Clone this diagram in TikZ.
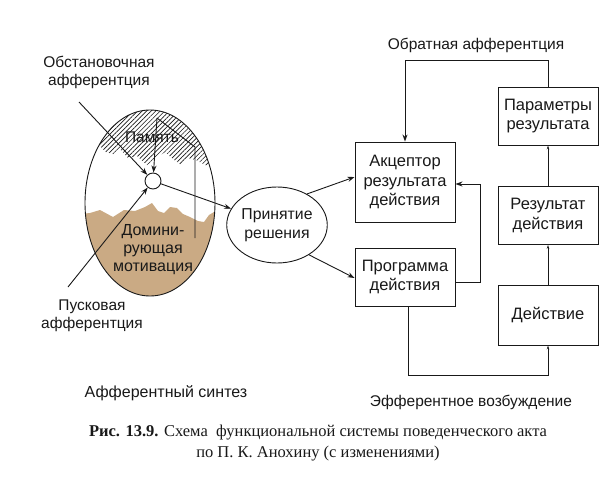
\documentclass[tikz,border=0pt]{standalone}
\usepackage{fontspec}
\setmainfont{Liberation Sans}
\newfontfamily\capfont{Liberation Serif}
\usetikzlibrary{shapes.geometric,arrows.meta,patterns.meta,calc}
\definecolor{tanbg}{RGB}{202,170,132}
\definecolor{inkc}{RGB}{25,25,25}
\begin{document}
\begin{tikzpicture}[x=1pt,y=-1pt,
  line width=0.9pt, draw=inkc,
  lbl/.style={font=\fontsize{15.5}{18}\selectfont, text=inkc, inner sep=0pt, align=center},
  blk/.style={draw, rectangle, minimum width=100pt, font=\fontsize{16.5}{19.5}\selectfont, align=center, text=inkc},
  arr/.style={-{Stealth[length=7pt,width=5pt]}},
  sarr/.style={-{Stealth[length=4pt,width=2.5pt]}}]
\path[fill=white] (0,0) rectangle (616,493);
\useasboundingbox (0,0) rectangle (616,493);

% egg interior regions
\begin{scope}
  \clip (150,203) ellipse [x radius=65, y radius=93];
  \fill[pattern={Lines[angle=45,distance=3.2pt,line width=0.65pt]},pattern color=inkc]
    (60,90) -- (60,140) -- (98,144) -- (106,152) -- (113,154) -- (120,149) -- (128,158) -- (137,156)
    -- (147,165) -- (156,158) -- (165,152) -- (173,159) -- (180,164) -- (188,158)
    -- (196,160) -- (205,165) -- (240,168) -- (240,90) -- cycle;
  \fill[tanbg]
    (60,300) -- (60,216) -- (90,213) -- (100,210) -- (113,217) -- (124,210) -- (135,211)
    -- (145,207) -- (152,203) -- (158,211) -- (164,213) -- (170,207) -- (177,208) -- (183,214)
    -- (190,217) -- (198,221) -- (204,222) -- (209,215) -- (214,212) -- (240,222) -- (240,300) -- cycle;
\end{scope}
\node[draw, ellipse, minimum width=130pt, minimum height=186pt, inner sep=0pt] (egg) at (150,203) {};

\node[lbl] (pam) at (152,137) {Память};
\node[lbl, font=\fontsize{16}{18}\selectfont] (dom) at (153,250) {Домини-\\рующая\\мотивация};

\node[circle, draw, fill=white, minimum size=16pt, inner sep=0pt] (c) at (153,181) {};

% memory lines
\coordinate (m1) at (195,238);
\coordinate (m2) at (195,147);
\coordinate (m3) at (157,118);
\draw (m1) -- (m2) -- (m3);
\draw[arr] (m3) -- (c);

% afferent inputs
\node[lbl] (obst) at (99,72) {Обстановочная\\афферентция};
\node[lbl] (pusk) at (92,316) {Пусковая\\афферентция};
\coordinate (obstA) at (79,102);
\coordinate (puskA) at (68,287);
\draw[arr] (obstA) -- (c);
\draw[arr] (puskA) -- (c);

% decision
\node[draw, ellipse, minimum width=97pt, minimum height=76pt, inner sep=0pt, font=\fontsize{15.8}{19.5}\selectfont, align=center, text=inkc] (prin) at (277,225) {Принятие\\решения};
\draw[arr] (c) -- (prin);

% right blocks
\node[blk, minimum height=80pt] (akc) at (405,182) {Акцептор\\результата\\действия};
\node[blk, minimum height=58pt] (prog) at (405,277) {Программа\\действия};
\node[blk, minimum height=58pt] (par) at (548,116) {Параметры\\результата};
\node[blk, minimum height=58pt] (res) at (548,215.5) {Результат\\действия};
\node[blk, minimum height=60pt] (dei) at (548,315) {Действие};

\draw[arr] (prin.46) -- ([yshift=5pt]akc.west);
\draw[arr] (prin.-43) -- ([yshift=-1pt]prog.west);

\draw[arr] (par.north) -- ++(0,-26) -| (akc.north);
\node[lbl] (obr) at (476,45) {Обратная афферентция};

\draw[arr] ([yshift=-5pt]prog.east) -- ++(25,0) |- ([yshift=-2pt]akc.east);

\draw[sarr] ([xshift=3pt]prog.south) -- ++(0,69) -| (dei.south);
\draw[sarr] (dei) -- (res);
\draw[sarr] (res) -- (par);

\node[lbl, font=\fontsize{16}{18}\selectfont] (aff) at (166,393) {Афферентный синтез};
\node[lbl] (eff) at (471,402) {Эфферентное возбуждение};

\node[inner sep=0pt, align=center, text=inkc, font=\capfont\fontsize{16.5}{21}\selectfont] (cap) at (318,443)
  {\textbf{Рис. 13.9.} Схема\ \ функциональной системы поведенческого акта\\по П. К. Анохину (с изменениями)};
\end{tikzpicture}
\end{document}
